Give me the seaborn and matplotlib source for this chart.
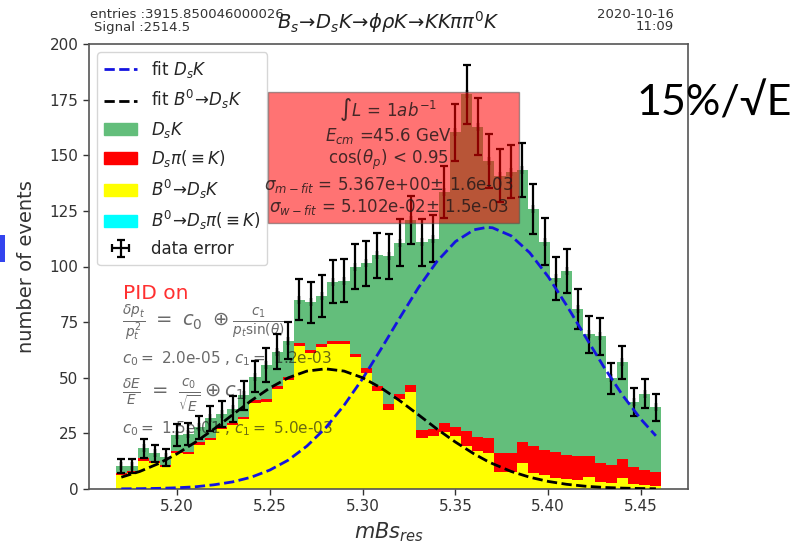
import numpy as np
import pandas as pd
import matplotlib
matplotlib.use("Agg")
import matplotlib.pyplot as plt
import seaborn as sns
from matplotlib.patches import Patch, Rectangle
from matplotlib.lines import Line2D

# ---------------- data ----------------
bin_low, bin_high, n_bins = 5.167, 5.461, 49

# B0 -> DsK (yellow, bottom of the stack)
b0_dsk = [6.3, 7.3, 12.8, 11.5, 9.8, 16.2, 15.8, 20.0, 22.0, 27.0,
          28.6, 31.3, 38.8, 39.3, 45.0, 49.0, 64.3, 61.2, 64.0, 65.2,
          65.2, 59.3, 52.3, 44.2, 35.6, 40.5, 43.7, 22.8, 23.6, 25.6,
          23.6, 19.5, 17.0, 16.0, 7.8, 7.5, 11.5, 7.0, 6.3, 5.0,
          4.3, 4.0, 5.5, 3.0, 2.7, 5.0, 2.3, 1.9, 1.4]
# Ds pi (=K) (red)
ds_pi = [1.0, 1.0, 1.0, 1.0, 1.0, 1.0, 1.0, 1.0, 1.0, 1.0,
         1.2, 1.2, 1.2, 1.2, 1.3, 1.2, 1.5, 1.3, 1.2, 1.5,
         1.5, 1.5, 1.9, 2.0, 2.4, 2.3, 3.0, 3.6, 3.4, 4.1,
         4.4, 6.5, 6.5, 7.0, 8.2, 8.5, 9.7, 12.2, 11.3, 11.8,
         11.2, 11.0, 9.5, 8.7, 8.3, 8.3, 7.6, 6.6, 6.1]
# DsK signal (green)
ds_k = [3.1, 2.1, 4.5, 3.5, 3.5, 7.1, 7.9, 6.7, 8.8, 5.9,
        6.2, 9.7, 10.5, 15.2, 15.4, 16.5, 19.2, 21.4, 21.5, 26.5,
        26.9, 39.2, 47.2, 58.8, 66.6, 67.9, 74.2, 84.5, 85.4, 103.8,
        132.3, 151.4, 139.3, 124.3, 124.8, 126.5, 122.2, 106.6, 93.6, 77.9,
        82.5, 65.9, 54.5, 56.9, 38.7, 43.6, 29.4, 34.3, 29.3]
# B0 -> Ds pi (=K) (cyan) : empty
b0_dspi = [0.0] * 49

# fit curves
fit_x = [5.17, 5.18, 5.19, 5.20, 5.21, 5.22, 5.23, 5.24, 5.25, 5.26,
         5.27, 5.28, 5.29, 5.30, 5.31, 5.32, 5.33, 5.34, 5.35, 5.36,
         5.367, 5.37, 5.38, 5.39, 5.40, 5.41, 5.42, 5.43, 5.44, 5.45, 5.458]
fit_dsk = [0.07, 0.14, 0.29, 0.55, 1.0, 1.9, 3.2, 5.3, 8.5, 13.0,
           19.3, 27.4, 37.6, 49.6, 63.0, 76.9, 90.4, 102.2, 111.2, 116.5,
           117.6, 117.4, 113.8, 106.2, 95.4, 82.4, 68.5, 54.8, 42.2, 31.3, 23.9]
fit_b0 = [5.3, 7.9, 11.4, 15.8, 21.1, 27.0, 33.4, 39.7, 45.4, 50.0,
          53.0, 54.0, 53.0, 50.0, 45.4, 39.7, 33.4, 27.0, 21.1, 15.8,
          12.6, 11.4, 7.9, 5.3, 3.4, 2.1, 1.25, 0.71, 0.39, 0.21, 0.12]

x_ticks = [5.20, 5.25, 5.30, 5.35, 5.40, 5.45]
y_ticks = [0, 25, 50, 75, 100, 125, 150, 175, 200]

lab_dsk = r"$D_sK$"
lab_dspi = r"$D_s\pi(\equiv K)$"
lab_b0dsk = r"$B^0\!\to\!D_sK$"
lab_b0dspi = r"$B^0\!\to\!D_s\pi(\equiv K)$"

# ---------------- figure ----------------
sns.set_theme(style="ticks")
plt.rcParams['font.family'] = ['DejaVu Sans']
plt.rcParams['mathtext.fontset'] = 'dejavusans'

fig = plt.figure(figsize=(8.02, 5.45), dpi=100)
ax = fig.add_axes([89 / 802, 1 - 489 / 545, 599 / 802, 445 / 545])

edges = np.linspace(bin_low, bin_high, n_bins + 1)
centers = 0.5 * (edges[:-1] + edges[1:])

df = pd.concat([
    pd.DataFrame({"m": centers, "w": b0_dspi, "comp": lab_b0dspi}),
    pd.DataFrame({"m": centers, "w": ds_k, "comp": lab_dsk}),
    pd.DataFrame({"m": centers, "w": ds_pi, "comp": lab_dspi}),
    pd.DataFrame({"m": centers, "w": b0_dsk, "comp": lab_b0dsk}),
], ignore_index=True)
palette = {lab_dsk: "#63be7b", lab_dspi: "#ff0000",
           lab_b0dsk: "#ffff00", lab_b0dspi: "#00ffff"}
sns.histplot(data=df, x="m", weights="w", hue="comp",
             hue_order=[lab_b0dspi, lab_dsk, lab_dspi, lab_b0dsk],
             bins=n_bins, binrange=(bin_low, bin_high),
             multiple="stack", element="step", fill=True,
             palette=palette, alpha=1.0, linewidth=0, legend=False, ax=ax)

total = np.array(ds_k) + np.array(ds_pi) + np.array(b0_dsk) + np.array(b0_dspi)
err = ax.errorbar(centers, total, yerr=np.sqrt(total), xerr=0, fmt="none",
                  ecolor="black", elinewidth=1.6, capsize=2.6, capthick=1.6,
                  zorder=4, label="data error")

sns.lineplot(x=fit_x, y=fit_dsk, ax=ax, color="#1414e0", linestyle="--",
             linewidth=2, zorder=5)
sns.lineplot(x=fit_x, y=fit_b0, ax=ax, color="black", linestyle="--",
             linewidth=2, zorder=5)

ax.set_xlim(5.1526, 5.4753)
ax.set_ylim(0, 200)
ax.set_xticks(x_ticks)
ax.set_xticklabels([f"{t:.2f}" for t in x_ticks])
ax.set_yticks(y_ticks)
ax.tick_params(labelsize=11, colors="#333333", length=4, width=1)
for s in ax.spines.values():
    s.set_color("#555555")
    s.set_linewidth(1.2)
ax.set_xlabel(r"$mBs_{res}$", fontsize=15, color="#333333")
ax.set_ylabel("number of events", fontsize=14, color="#333333", labelpad=10)

handles = [
    Line2D([], [], color="#1414e0", linestyle="--", linewidth=2, label=r"fit $D_sK$"),
    Line2D([], [], color="black", linestyle="--", linewidth=2, label=r"fit $B^0\!\to\!D_sK$"),
    Patch(color="#63be7b", label=lab_dsk),
    Patch(color="#ff0000", label=lab_dspi),
    Patch(color="#ffff00", label=lab_b0dsk),
    Patch(color="#00ffff", label=lab_b0dspi),
    err,
]
leg = ax.legend(handles=handles, loc="upper left", fontsize=12, frameon=True)
leg.get_frame().set_edgecolor("#cccccc")
leg.set_zorder(7)

# red info box
ax.add_patch(Rectangle((0.299, 0.598), 0.419, 0.294, transform=ax.transAxes,
                       facecolor=(1, 0, 0, 0.55), edgecolor=(0.3, 0.3, 0.3, 0.5),
                       linewidth=1, zorder=8))
box_lines = [
    (0.852, r"$\int L\,=\,1ab^{-1}$"),
    (0.793, r"$E_{cm}$ =45.6 GeV"),
    (0.739, r"cos($\theta_p$) < 0.95"),
    (0.683, r"$\sigma_{m-fit}$ = 5.367e+00$\pm$ 1.6e-03"),
    (0.634, r"$\sigma_{w-fit}$ = 5.102e-02$\pm$ 1.5e-03"),
]
for yy, t in box_lines:
    ax.text(0.5, yy, t, transform=ax.transAxes, ha="center", va="center",
            fontsize=12, color=(0.15, 0.1, 0.1, 0.85), zorder=9)

# PID text
ax.text(0.057, 0.44, "PID on", transform=ax.transAxes, ha="left", va="center",
        fontsize=14.5, color="#ff3030", zorder=3.5)
side_lines = [
    (0.373, r"$\frac{\delta p_t}{p_t^2}\ =\ c_0\ \oplus \frac{c_1}{p_t\sin(\theta)}$", 14),
    (0.294, r"$c_0 = $ 2.0e-05 , $c_1 = $ 1.2e-03", 11),
    (0.211, r"$\frac{\delta E}{E}\ =\ \frac{c_0}{\sqrt{E}}\oplus c_1$", 14),
    (0.135, r"$c_0 = $ 1.5e-01 , $c_1 = $ 5.0e-03", 11),
]
for yy, t, fs in side_lines:
    ax.text(0.055, yy, t, transform=ax.transAxes, ha="left", va="center",
            fontsize=fs, color=(0.1, 0.1, 0.1, 0.65), zorder=3.5)

# header texts
fig.text(90 / 802, 1 - 14 / 545, "entries :3915.850046000026", ha="left", va="center",
         fontsize=9.5, color="#333333")
fig.text(94 / 802, 1 - 27 / 545, "Signal :2514.5", ha="left", va="center",
         fontsize=9.5, color="#333333")
fig.text(674 / 802, 1 - 14 / 545, "2020-10-16", ha="right", va="center",
         fontsize=9.5, color="#333333")
fig.text(674 / 802, 1 - 27 / 545, "11:09", ha="right", va="center",
         fontsize=9.5, color="#333333")
fig.text(388 / 802, 1 - 22 / 545, r"$B_s\!\to\!D_sK\!\to\!\phi\rho K\!\to\!KK\pi\pi^0K$",
         ha="center", va="center", fontsize=14, color="#222222")

# slide overlays
fig.text(636 / 802, 1 - 103 / 545, "15%/\u221aE", ha="left", va="center",
         fontsize=31, color="black", family=["Lato", "DejaVu Sans"])
fig.patches.append(Rectangle((0, 1 - 262 / 545), 5 / 802, 27 / 545,
                             transform=fig.transFigure, facecolor="#3344ee",
                             edgecolor="none"))

fig.savefig("out.png", dpi=100)
